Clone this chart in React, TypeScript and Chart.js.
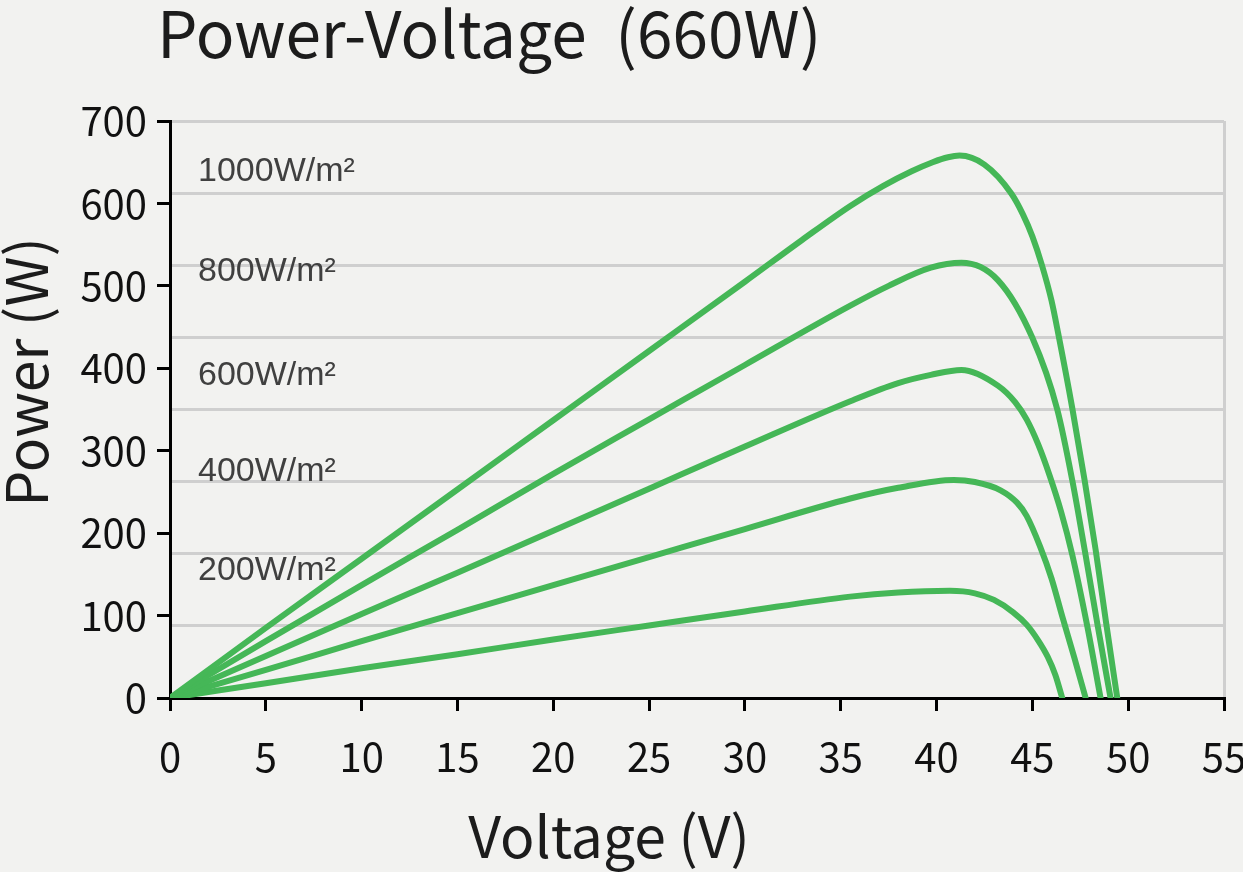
import { useEffect, useRef } from "react";
import { Chart, registerables } from "chart.js";

Chart.register(...registerables);

const chartTitle = "Power-Voltage  (660W)";
const xTitle = "Voltage (V)";
const yTitle = "Power (W)";

const irradiance = ["1000W/m²", "800W/m²", "600W/m²", "400W/m²", "200W/m²"];

// voltage (V) / power (W)
const volts1000 = [0, 5, 10, 15, 20, 25, 30, 33, 35.5, 37.2, 38.7, 39.8, 40.6, 41.2, 42.5, 43.9, 44.5, 45.0, 45.5, 46.0, 46.35, 47.08, 47.72, 48.3, 48.85, 49.43];
const power1000 = [0, 85, 169, 253, 337, 421, 505, 556, 597, 621, 639, 650, 656, 658, 647, 612, 587, 560, 525, 482, 442, 352, 265, 180, 91, 0];

const volts800 = [0, 5, 10, 15, 20, 25, 30, 35.5, 37.5, 39.7, 41.3, 43.2, 45.0, 46.3, 47.1, 47.75, 48.4, 49.08];
const power800 = [0, 69, 137, 204, 272, 338, 404, 476, 500, 522, 528, 507, 437, 350, 262, 177, 89, 0];

const volts600 = [0, 5, 10, 15, 20, 25, 30, 35.5, 38, 39.7, 41.3, 43.2, 44.1, 44.7, 45.3, 45.9, 46.5, 47.08, 47.85, 48.56];
const power600 = [0, 51, 102, 152, 203, 254, 305, 360, 382, 392, 398, 379, 359, 338, 308, 270, 226, 174, 89, 0];

const volts400 = [0, 5, 10, 15, 20, 25, 30, 35.5, 38, 40.9, 42, 43.34, 44.2, 44.7, 45.4, 46.0, 46.56, 47.2, 47.78];
const power400 = [0, 34, 69, 103, 137, 171, 205, 242, 255, 264.5, 262, 252, 237, 221, 184, 145, 99, 48, 0];

const volts200 = [0, 5, 10, 15, 20, 25, 30, 35.5, 38, 40.7, 42, 43.0, 44.0, 44.7, 45.3, 45.8, 46.2, 46.56];
const power200 = [0, 18, 36, 53, 71, 88, 105, 123, 128, 130, 127, 119, 104, 89, 70, 50, 28, 0];

const xTicks = [0, 5, 10, 15, 20, 25, 30, 35, 40, 45, 50, 55];
const yTicks = [0, 100, 200, 300, 400, 500, 600, 700];

const series = [
  { v: volts1000, p: power1000 },
  { v: volts800, p: power800 },
  { v: volts600, p: power600 },
  { v: volts400, p: power400 },
  { v: volts200, p: power200 },
];

const BG = "#f2f2f0";
const GREEN = "#45b757";
const GRID = "#cfcfcf";
const CJK = '"Noto Sans CJK SC", "Noto Sans", sans-serif';

// pixel rows where the irradiance labels sit (centre of text)
const labelRows = [172, 272, 376, 472, 571];

const textPlugin = {
  id: "pvText",
  beforeDraw(chart: Chart) {
    const ctx = chart.ctx;
    ctx.save();
    ctx.fillStyle = BG;
    ctx.fillRect(0, 0, chart.width, chart.height);
    ctx.restore();
  },
  afterDraw(chart: Chart) {
    const ctx = chart.ctx;
    ctx.save();
    ctx.fillStyle = "#1c1c1c";
    ctx.textBaseline = "alphabetic";
    ctx.textAlign = "left";
    ctx.font = `64px ${CJK}`;
    ctx.fillText(chartTitle, 157, 58);

    ctx.font = `57px ${CJK}`;
    ctx.textAlign = "center";
    ctx.fillText(xTitle, 609, 858);

    ctx.save();
    ctx.translate(48, 372);
    ctx.rotate(-Math.PI / 2);
    ctx.fillText(yTitle, 0, 0);
    ctx.restore();

    ctx.font = '34px "Liberation Sans", Arial, sans-serif';
    ctx.fillStyle = "#404040";
    ctx.textAlign = "left";
    ctx.textBaseline = "middle";
    irradiance.forEach((label, i) => {
      ctx.fillText(label, 198, labelRows[i]);
    });
    ctx.restore();
  },
};

export default function App() {
  const canvasRef = useRef<HTMLCanvasElement | null>(null);
  const chartRef = useRef<Chart | null>(null);

  useEffect(() => {
    document.body.style.margin = "0";
    document.body.style.background = BG;
    if (!canvasRef.current) return;
    if (chartRef.current) chartRef.current.destroy();

    chartRef.current = new Chart(canvasRef.current, {
      type: "line",
      data: {
        datasets: series.map((s, i) => ({
          label: irradiance[i],
          data: s.v.map((v, j) => ({ x: v, y: s.p[j] })),
          borderColor: GREEN,
          backgroundColor: GREEN,
          borderWidth: 6,
          pointRadius: 0,
          fill: false,
          cubicInterpolationMode: "monotone" as const,
          borderCapStyle: "round" as const,
          borderJoinStyle: "round" as const,
          xAxisID: "x",
          yAxisID: "y",
        })),
      },
      options: {
        animation: false,
        responsive: true,
        maintainAspectRatio: false,
        layout: { padding: { top: 121, right: 19, left: 0, bottom: 0 } },
        plugins: {
          legend: { display: false },
          tooltip: { enabled: false },
          title: { display: false },
        },
        scales: {
          x: {
            type: "linear",
            min: 0,
            max: 55,
            afterBuildTicks: (s: any) => {
              s.ticks = xTicks.map((value) => ({ value }));
            },
            ticks: {
              color: "#111",
              font: { family: CJK, size: 40 },
              padding: 22,
              maxRotation: 0,
            },
            grid: {
              color: (c: any) => (c.tick && c.tick.value === 55 ? GRID : "rgba(0,0,0,0)"),
              lineWidth: 3,
              tickColor: "#000",
              tickWidth: 3,
              tickLength: 13,
            },
            border: { display: true, color: "#000", width: 3 },
            afterFit: (s: any) => {
              s.height = 174;
              s.paddingLeft = 0;
              s.paddingRight = 0;
            },
          },
          y: {
            type: "linear",
            position: "left",
            min: 0,
            max: 700,
            afterBuildTicks: (s: any) => {
              s.ticks = yTicks.map((value) => ({ value }));
            },
            ticks: {
              color: "#111",
              font: { family: CJK, size: 40 },
              padding: 10,
            },
            grid: {
              drawOnChartArea: false,
              tickColor: "#000",
              tickWidth: 3,
              tickLength: 13,
            },
            border: { display: true, color: "#000", width: 3 },
            afterFit: (s: any) => {
              s.width = 170;
              s.paddingTop = 0;
              s.paddingBottom = 0;
            },
          },
          yGrid: {
            type: "linear",
            position: "right",
            min: 0,
            max: 700,
            ticks: { display: false, stepSize: 87.5 },
            grid: {
              color: (c: any) => (c.tick && c.tick.value === 0 ? "rgba(0,0,0,0)" : GRID),
              lineWidth: 3,
              drawTicks: false,
            },
            border: { display: false },
            afterFit: (s: any) => {
              s.width = 0;
              s.paddingTop = 0;
              s.paddingBottom = 0;
            },
          },
        },
      },
      plugins: [textPlugin],
    });

    return () => {
      if (chartRef.current) {
        chartRef.current.destroy();
        chartRef.current = null;
      }
    };
  }, []);

  return (
    <div style={{ position: "fixed", left: 0, top: 0, width: 1243, height: 872, background: BG }}>
      <canvas ref={canvasRef} />
    </div>
  );
}
